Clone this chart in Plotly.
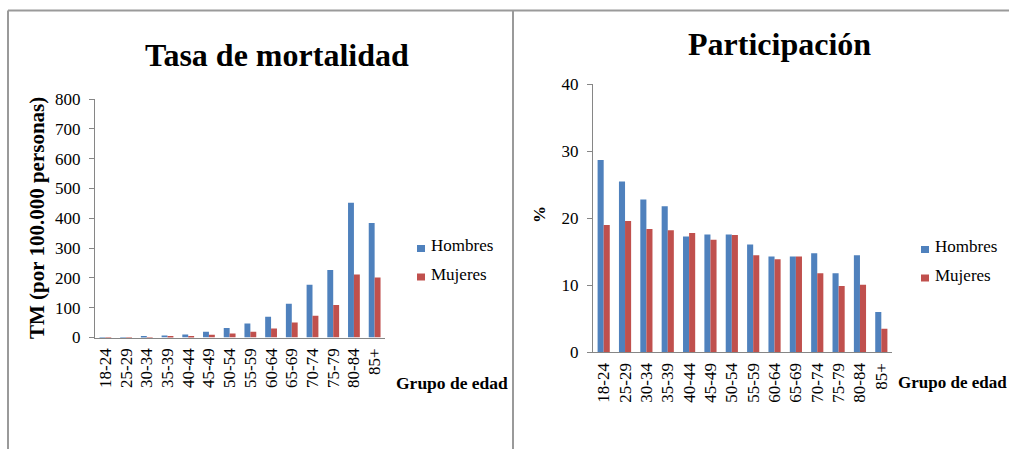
import plotly.graph_objects as go

# Age groups shared by both panels
grupos = ["18-24", "25-29", "30-34", "35-39", "40-44", "45-49", "50-54",
          "55-59", "60-64", "65-69", "70-74", "75-79", "80-84", "85+"]

# Mortality rate per 100.000 people
tm_hombres = [1, 1.5, 4, 7, 10, 19, 32, 47, 70, 113, 177, 226, 452, 384]
tm_mujeres = [0.5, 1, 1.5, 2, 5, 9, 13, 19, 30, 50, 73, 109, 211, 201]

# Participation (%)
part_hombres = [28.7, 25.5, 22.8, 21.8, 17.3, 17.6, 17.6, 16.1, 14.3, 14.3, 14.8, 11.8, 14.5, 6.0]
part_mujeres = [19.0, 19.6, 18.4, 18.2, 17.8, 16.8, 17.5, 14.5, 13.9, 14.3, 11.8, 9.9, 10.1, 3.5]

series = ["Hombres", "Mujeres"]

W, H = 1009, 449
AZUL = "#4F81BD"
ROJO = "#C0504D"
colores = [AZUL, ROJO]
SERIF = "Liberation Serif"
GRIS = "#868686"


def px(x):
    return x / W


def py(y):
    return 1 - y / H


fig = go.Figure()

# Bars
for xa, ya, hv, mv in [("x", "y", tm_hombres, tm_mujeres),
                       ("x2", "y2", part_hombres, part_mujeres)]:
    for nombre, vals, color in zip(series, [hv, mv], colores):
        fig.add_trace(go.Bar(x=grupos, y=vals, name=nombre, marker_color=color,
                             xaxis=xa, yaxis=ya, showlegend=False, marker_line_width=0))

axis_common = dict(showline=True, linecolor=GRIS, linewidth=1, showgrid=False,
                   zeroline=False, automargin=False,
                   tickfont=dict(family=SERIF, size=17, color="black"))
x_axis = dict(tickangle=-90, ticks="", ticklabelstandoff=3, **axis_common)
y_axis = dict(ticks="outside", ticklen=5, tickcolor=GRIS, ticklabelstandoff=5, **axis_common)

fig.update_layout(
    width=W, height=H,
    margin=dict(l=0, r=0, t=0, b=0, autoexpand=False),
    paper_bgcolor="white", plot_bgcolor="white",
    barmode="group", bargap=0.43, bargroupgap=0,
    xaxis=dict(domain=[px(95), px(385)], anchor="y", **x_axis),
    yaxis=dict(domain=[py(337.5), py(99)], anchor="x", range=[0, 800], dtick=100, **y_axis),
    xaxis2=dict(domain=[px(593), px(892)], anchor="y2", **x_axis),
    yaxis2=dict(domain=[py(352.3), py(84.3)], anchor="x2", range=[0, 40], dtick=10, **y_axis),
)

# Titles and axis labels
anots = [
    dict(text="<b>Tasa de mortalidad</b>", x=px(277), y=py(55), size=32, angle=0, xanchor="center"),
    dict(text="<b>Participación</b>", x=px(779), y=py(44), size=32, angle=0, xanchor="center"),
    dict(text="<b>TM (por 100.000 personas)</b>", x=px(37), y=py(218), size=21, angle=-90, xanchor="center"),
    dict(text="<b>%</b>", x=px(540), y=py(215), size=17, angle=-90, xanchor="center"),
    dict(text="<b>Grupo de edad</b>", x=px(394), y=py(383), size=17.5, angle=0, xanchor="left"),
    dict(text="<b>Grupo de edad</b>", x=px(896), y=py(382), size=17, angle=0, xanchor="left"),
]
for a in anots:
    fig.add_annotation(text=a["text"], x=a["x"], y=a["y"], xref="paper", yref="paper",
                       xanchor=a["xanchor"], yanchor="middle", textangle=a["angle"],
                       showarrow=False, font=dict(family=SERIF, size=a["size"], color="black"))

# Legend keys: colour square followed by the series name, one block per panel
for x_key, y_first in [(417, 248.5), (921, 249.5)]:
    for i, (nombre, color) in enumerate(zip(series, colores)):
        yc = y_first + i * 28.5
        fig.add_shape(type="rect", xref="paper", yref="paper",
                      x0=px(x_key), x1=px(x_key + 8), y0=py(yc + 3.5), y1=py(yc - 3.5),
                      fillcolor=color, line_width=0)
        fig.add_annotation(text=nombre, x=px(x_key + 12), y=py(yc - 3), xref="paper", yref="paper",
                           xanchor="left", yanchor="middle", showarrow=False,
                           font=dict(family=SERIF, size=17, color="black"))

# Frame lines around the two panels
marco = dict(color="#9A9A9A", width=2)
fig.add_shape(type="line", xref="paper", yref="paper", x0=px(8), x1=1, y0=py(10.5), y1=py(10.5), line=marco)
fig.add_shape(type="line", xref="paper", yref="paper", x0=px(8), x1=px(8), y0=py(10.5), y1=0, line=marco)
fig.add_shape(type="line", xref="paper", yref="paper", x0=px(513), x1=px(513), y0=py(10.5), y1=0, line=marco)

fig.write_html("out.html", post_script="document.body.style.margin='0';")
